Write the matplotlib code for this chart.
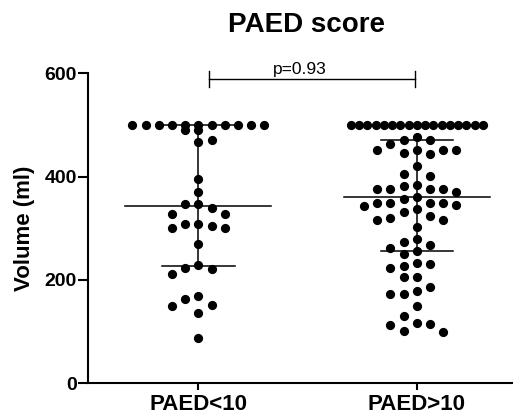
import matplotlib
matplotlib.use("Agg")
import matplotlib.pyplot as plt
import numpy as np

# values (ml)
groups = ["PAED<10", "PAED>10"]
paed_lo = [500] * 11 + [490, 490, 471, 467, 395, 371, 348, 348, 339, 327, 327,
                        309, 305, 301, 309, 300, 269, 229, 222, 212, 223,
                        169, 164, 152, 149, 136, 88]
paed_hi = [500] * 17 + [476, 471.5, 471, 463, 452, 452, 452, 452, 446, 444, 421,
                        405, 401, 383, 381, 376, 376, 376, 376, 371, 360.6, 356,
                        349.5, 349.5, 344.5, 343, 349, 349, 338, 331.6, 324, 320.7,
                        317, 317, 302, 279, 274, 267.7, 262.6, 256, 249.7, 233.4,
                        230, 227.7, 222.6, 205, 205, 187, 179, 172.8, 172.8,
                        149.6, 130.3, 117.4, 114, 112.9, 101, 100]
p_text = "p=0.93"

plt.rcParams['font.family'] = ['Liberation Sans', 'DejaVu Sans']


def swarm(vals, dy=22, max_half=5):
    # beeswarm in integer slots; big ties become their own (squeezed) row
    vals = np.asarray(vals, float)
    offs = np.zeros(len(vals))
    done = np.zeros(len(vals), bool)
    for v in np.unique(vals):
        idx = np.where(vals == v)[0]
        if len(idx) >= 5:
            half = min(max_half, (len(idx) - 1) / 2)
            offs[idx] = np.linspace(-half, half, len(idx))
            done[idx] = True
    placed = []
    cands = [0]
    for k in range(1, 30):
        cands += [-k, k]
    for i in np.argsort(-vals, kind="stable"):
        if done[i]:
            continue
        for s in cands:
            if all(abs(pv - vals[i]) >= dy or ps != s for pv, ps in placed):
                break
        offs[i] = s
        placed.append((vals[i], s))
    return offs


fig = plt.figure(figsize=(5.13, 4.17), dpi=100)
ax = fig.add_axes([88 / 513, 1 - 383.3 / 417, 425 / 513, 310 / 417])

slot = 0.0604
for i, data in enumerate([paed_lo, paed_hi]):
    xc = i + 1
    x = xc + swarm(data) * slot
    ax.scatter(x, data, s=44, color='black', zorder=3, linewidths=0)
    q1, med, q3 = np.percentile(data, [25, 50, 75], method='weibull')
    ax.plot([xc - 0.334, xc + 0.334], [med, med], color='black', lw=1.1, zorder=2)
    ax.plot([xc - 0.166, xc + 0.166], [q1, q1], color='black', lw=1.1, zorder=2)
    ax.plot([xc - 0.166, xc + 0.166], [q3, q3], color='black', lw=1.1, zorder=2)
    ax.plot([xc, xc], [q1, q3], color='black', lw=1.1, zorder=2)

# significance bracket
ax.plot([1.049, 1.992], [589, 589], color='black', lw=1, clip_on=False)
ax.plot([1.049, 1.049], [573, 605], color='black', lw=1, clip_on=False)
ax.plot([1.992, 1.992], [573, 605], color='black', lw=1, clip_on=False)
ax.text(1.465, 593, p_text, ha='center', va='bottom', fontsize=12.5)

ax.set_xlim(0.495, 2.44)
ax.set_ylim(0, 600)
ax.set_xticks([1, 2])
ax.set_xticklabels(groups, fontsize=16, fontweight='bold')
ax.set_yticks([0, 200, 400, 600])
ax.set_yticklabels(['0', '200', '400', '600'], fontsize=14, fontweight='bold')
ax.tick_params(axis='y', length=7, width=1.5, pad=1)
ax.tick_params(axis='x', length=5, width=1.5, pad=3)
for sp in ['top', 'right']:
    ax.spines[sp].set_visible(False)
for sp in ['left', 'bottom']:
    ax.spines[sp].set_linewidth(1.5)
ax.set_ylabel('Volume (ml)', fontsize=16, fontweight='bold', labelpad=7)

fig.text(307 / 513, 1 - 25 / 417, 'PAED score', ha='center', va='center',
         fontsize=20, fontweight='bold')

fig.savefig('out.png', dpi=100)
